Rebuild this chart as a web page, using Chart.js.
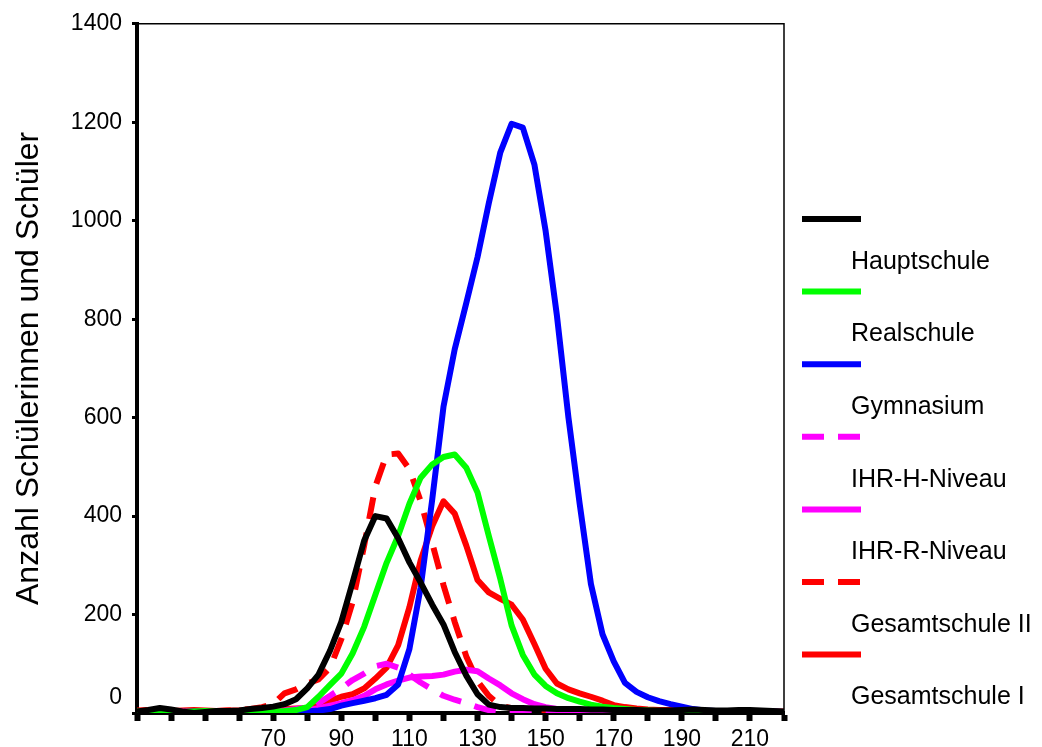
<!DOCTYPE html>
<html>
<head>
<meta charset="utf-8">
<title>Schulformen</title>
<script src="https://cdn.jsdelivr.net/npm/chart.js@4"></script>
<style>
  html, body { margin: 0; padding: 0; background: #fff; }
  canvas { display: block; }
</style>
</head>
<body>
<canvas id="kurven" width="1042" height="747"></canvas>
<script>
// Punktwerte (x) und Anzahl je Schulform
const punkte = [30, 33.3, 36.7, 40, 43.3, 46.7, 50, 53.3, 56.7, 60, 63.3, 66.7, 70, 73.3, 76.7, 80, 83.3, 86.7, 90, 93.3,
  96.7, 100, 103.3, 106.7, 110, 113.3, 116.7, 120, 123.3, 126.7, 130, 133.3, 136.7, 140, 143.3, 146.7, 150, 153.3,
  156.7, 160, 163.3, 166.7, 170, 173.3, 176.7, 180, 183.3, 186.7, 190, 193.3, 196.7, 200, 203.3, 206.7, 210, 213.3,
  216.7, 220];

const hauptschule = [3, 6, 10, 7, 3, 0, 2, 4, 4, 5, 8, 10,
  13, 18, 28, 50, 78, 127, 185, 265, 350, 400, 395, 355, 306, 265, 220, 180, 124, 76, 38, 17, 12,
  10, 10, 9, 9, 8, 8, 8, 7, 7, 6, 6, 6, 5, 5, 5, 6, 7, 6, 5, 5, 6, 6, 5, 4, 3];

const realschule = [3, 4, 3, 2, 2, 3, 4, 3, 2, 3, 4, 3, 3, 4, 6,
  12, 33, 57, 80, 121, 175, 240, 305, 360, 425, 478, 505, 520, 525, 498, 448, 360, 272, 178, 118, 78,
  55, 40, 30, 23, 17, 13, 10, 8, 6, 5, 4, 3, 3, 2, 2, 2, 2, 2, 2, 2, 2, 2];

const gymnasium = [2, 3, 2, 1, 2, 3, 2, 1, 2, 2, 1, 1, 2, 2, 3, 3, 5,
  8, 15, 20, 25, 30, 37, 58, 130, 255, 434, 622, 739, 833, 926, 1035, 1139, 1197,
  1189, 1114, 979, 808, 600, 425, 262, 160, 105, 61, 43, 32, 24, 18, 13, 8, 5,
  4, 3, 3, 3, 3, 3, 2];

const ihrH = [1, 2, 3, 2, 1, 1, 2, 2, 1, 2, 2, 3, 4, 5,
  8, 12, 20, 35, 50, 67, 80, 95, 100, 92, 78, 62, 48, 35, 27, 20, 12, 6,
  3, 3, 2, 2, 2, 2, 2, 2, 2, 2, 1, 1, 1, 1, 1, 1, 1, 1, 1, 1, 1, 1, 1, 1, 1, 1];

const ihrR = [2, 1, 1, 2, 3, 2, 1, 1, 2, 2, 2, 2, 3, 3, 4,
  5, 10, 15, 20, 26, 35, 48, 58, 66, 72, 74, 75, 78, 84, 88, 85, 70, 56, 40, 28, 18, 12, 8, 6, 5,
  4, 4, 3, 3, 3, 2, 2, 2, 2, 2, 2, 2, 2, 2, 2, 2, 2, 2];

const gesamtII = [3, 4, 3, 2, 2, 3, 3, 4, 5, 6, 8, 12,
  18, 40, 48, 60, 68, 92, 150, 225, 340, 460, 525, 527, 495, 430, 345, 260, 185, 115, 65, 35, 15,
  10, 8, 6, 5, 4, 4, 3, 3, 3, 3, 2, 2, 2, 2, 2, 2, 2, 2, 2, 2, 2, 2, 2, 2, 2];

const gesamtI = [5, 6, 5, 4, 5, 6, 5, 4, 5, 5, 6, 7, 8, 8, 9,
  10, 15, 25, 33, 38, 50, 70, 92, 138, 215, 310, 380, 430, 405, 340, 270, 245, 232, 220, 190,
  140, 90, 60, 48, 40, 33, 25, 16, 12, 9, 7,
  6, 6, 5, 5, 4, 4, 4, 3, 3, 3, 3, 3];

const xBeschriftung = [70, 90, 110, 130, 150, 170, 190, 210];
const yTicks = [0, 200, 400, 600, 800, 1000, 1200, 1400];

const schrift = '"Liberation Sans", Arial, sans-serif';

function reihe(label, werte, farbe, strich) {
  return {
    label: label,
    data: punkte.map((x, i) => ({ x: x, y: werte[i] })),
    borderColor: farbe,
    borderWidth: 6,
    borderDash: strich || [],
    borderJoinStyle: 'round',
    pointRadius: 0,
    tension: 0,
    fill: false
  };
}

// Legende rechts: Linie oben, Name darunter
const seitenLegende = {
  id: 'seitenLegende',
  afterDraw(chart) {
    const ctx = chart.ctx;
    const links = chart.chartArea.right + 18;
    ctx.save();
    ctx.font = '25px ' + schrift;
    ctx.textBaseline = 'middle';
    chart.data.datasets.forEach((ds, i) => {
      const y = 219 + i * 72.6;
      ctx.strokeStyle = ds.borderColor;
      ctx.lineWidth = 6;
      ctx.setLineDash(ds.borderDash);
      ctx.beginPath();
      ctx.moveTo(links, y);
      ctx.lineTo(links + 59, y);
      ctx.stroke();
      ctx.fillStyle = '#000';
      ctx.fillText(ds.label, links + 49, y + 43);
    });
    ctx.restore();
  }
};

// duenner Rahmen oben und rechts
const rahmen = {
  id: 'rahmen',
  afterDatasetsDraw(chart) {
    const { ctx, chartArea: a } = chart;
    ctx.save();
    ctx.strokeStyle = '#000';
    ctx.lineWidth = 1.5;
    ctx.beginPath();
    ctx.moveTo(a.left, a.top);
    ctx.lineTo(a.right, a.top);
    ctx.lineTo(a.right, a.bottom);
    ctx.stroke();
    ctx.restore();
  }
};

// die 0 sitzt etwas oberhalb der Achse
const nullHoch = {
  id: 'nullHoch',
  beforeDraw(chart) {
    chart.scales.y.getLabelItems().forEach(it => {
      if (it.label === '0') it.options.translation[1] -= 15;
    });
  }
};

new Chart(document.getElementById('kurven'), {
  type: 'line',
  data: {
    datasets: [
      reihe('Hauptschule', hauptschule, '#000000'),
      reihe('Realschule', realschule, '#00ff00'),
      reihe('Gymnasium', gymnasium, '#0000ff'),
      reihe('IHR-H-Niveau', ihrH, '#ff00ff', [22, 14]),
      reihe('IHR-R-Niveau', ihrR, '#ff00ff'),
      reihe('Gesamtschule II', gesamtII, '#ff0000', [22, 14]),
      reihe('Gesamtschule I', gesamtI, '#ff0000')
    ]
  },
  options: {
    responsive: false,
    animation: false,
    layout: { padding: { top: 22, right: 258, bottom: 0, left: 0 } },
    plugins: {
      legend: { display: false },
      tooltip: { enabled: false }
    },
    scales: {
      x: {
        type: 'linear',
        min: 30,
        max: 220,
        ticks: {
          stepSize: 10,
          autoSkip: false,
          maxRotation: 0,
          padding: 5,
          color: '#000',
          font: { family: schrift, size: 23 },
          callback: v => xBeschriftung.includes(v) ? String(v) : ''
        },
        grid: { drawOnChartArea: false, tickLength: 8, tickWidth: 6, tickColor: '#000' },
        border: { color: '#000', width: 4 },
        afterFit: s => { s.height = 34; }
      },
      y: {
        min: 0,
        max: 1400,
        afterBuildTicks: s => { s.ticks = yTicks.map(v => ({ value: v })); },
        ticks: {
          padding: 10,
          color: '#000',
          font: { family: schrift, size: 23 },
          callback: v => String(v)
        },
        grid: { drawOnChartArea: false, tickLength: 5, tickWidth: 3, tickColor: '#000' },
        border: { color: '#000', width: 4 },
        title: {
          display: true,
          text: 'Anzahl Schülerinnen und Schüler',
          color: '#000',
          font: { family: schrift, size: 32, weight: 'normal' },
          padding: { top: 10, bottom: 0 }
        },
        afterFit: s => { s.width = 137; }
      }
    }
  },
  plugins: [seitenLegende, rahmen, nullHoch]
});
</script>
</body>
</html>
